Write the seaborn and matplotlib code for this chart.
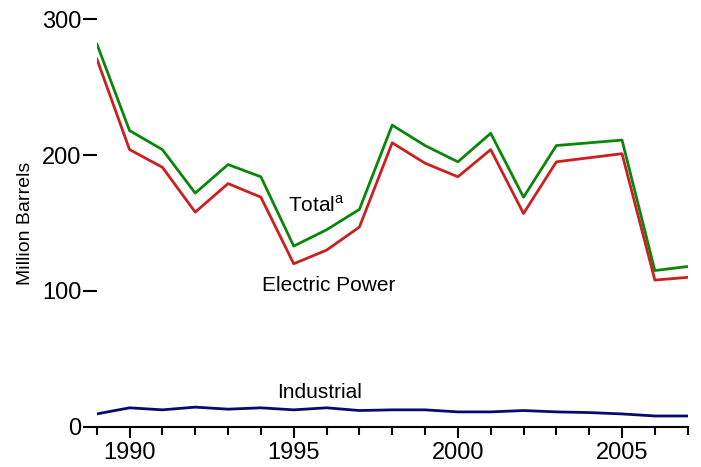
import numpy as np
import pandas as pd
import matplotlib.pyplot as plt
import seaborn as sns
from matplotlib.ticker import MultipleLocator

years = list(range(1989, 2008))
total = [282, 218, 204, 172, 193, 184, 133, 145, 160, 222, 207, 195, 216, 169, 207, 209, 211, 115, 118]
electric = [271, 204, 191, 158, 179, 169, 120, 130, 147, 209, 194, 184, 204, 157, 195, 198, 201, 108, 110]
industrial = [9.5, 14, 12.5, 14.5, 13, 14, 12.5, 14, 12, 12.5, 12.5, 11, 11, 12, 11, 10.5, 9.5, 8, 8]

sns.set_style("white")
plt.rcParams['font.family'] = ['Liberation Sans', 'DejaVu Sans']
plt.rcParams['text.color'] = 'black'
plt.rcParams['xtick.color'] = 'black'
plt.rcParams['ytick.color'] = 'black'
plt.rcParams['axes.labelcolor'] = 'black'

df = pd.DataFrame({'Year': years, 'Total': total, 'Electric Power': electric,
                   'Industrial': industrial})

fig = plt.figure(figsize=(7.01, 4.67), dpi=100)
ax = fig.add_axes([0.138, 0.086, 0.843, 0.873])

sns.lineplot(data=df, x='Year', y='Total', color='#0a860a', linewidth=2, ax=ax)
sns.lineplot(data=df, x='Year', y='Electric Power', color='#cc1f1f', linewidth=2, ax=ax)
sns.lineplot(data=df, x='Year', y='Industrial', color='#0a0a6e', linewidth=2, ax=ax)

ax.set_xlim(1989, 2007)
ax.set_ylim(0, 300)
ax.set_yticks([0, 100, 200, 300])
ax.set_xticks([1990, 1995, 2000, 2005])
ax.xaxis.set_minor_locator(MultipleLocator(1))
ax.tick_params(axis='x', which='major', direction='out', length=8, width=1.5,
               labelsize=17, pad=3, bottom=True)
ax.tick_params(axis='x', which='minor', direction='out', length=6, width=1.5, bottom=True)
ax.tick_params(axis='y', direction='out', length=10, width=1.5, labelsize=17, pad=1, left=True)

for s in ['top', 'right', 'left']:
    ax.spines[s].set_visible(False)
ax.spines['bottom'].set_color('black')
ax.spines['bottom'].set_linewidth(1.5)

ax.set_xlabel('')
ax.set_ylabel('Million Barrels', fontsize=14, labelpad=6)

ax.text(1995.7, 163, 'Total$^{\\mathregular{a}}$', fontsize=15, ha='center', va='center')
ax.text(1996.05, 104, 'Electric Power', fontsize=15, ha='center', va='center')
ax.text(1995.8, 25, 'Industrial', fontsize=15, ha='center', va='center')

plt.savefig('out.png', dpi=100)
